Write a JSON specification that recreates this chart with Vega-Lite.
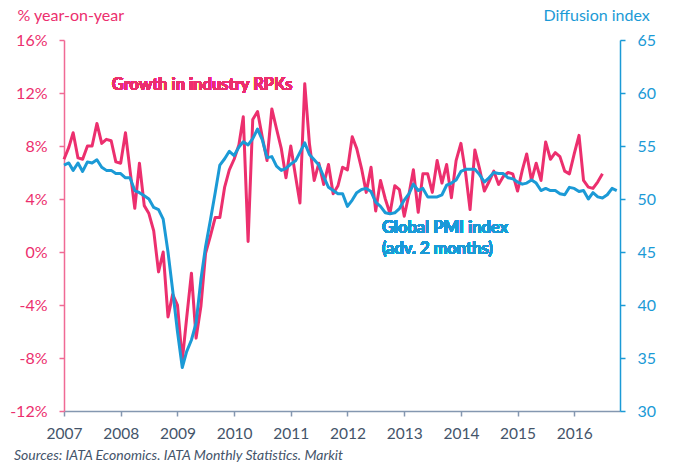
{
  "$schema": "https://vega.github.io/schema/vega-lite/v6.json",
  "width": 556,
  "height": 371,
  "autosize": {"type": "none"},
  "padding": {"left": 64, "top": 40, "right": 59, "bottom": 65},
  "background": "white",
  "config": {"font": "Lato", "view": {"stroke": null}, "axis": {"grid": false}},
  "title": {
    "text": "Sources: IATA Economics. IATA Monthly Statistics. Markit",
    "orient": "bottom", "anchor": "start", "frame": "group",
    "dx": -50, "offset": 7, "fontSize": 14, "fontStyle": "italic",
    "fontWeight": "normal", "color": "#44546a", "font": "Lato"
  },
  "data": {"values": [
    {"date": "2007-01-01", "rpk": 7.0, "pmi": 53.2},
    {"date": "2007-02-01", "rpk": 7.9, "pmi": 53.4},
    {"date": "2007-03-01", "rpk": 9.0, "pmi": 52.7},
    {"date": "2007-04-01", "rpk": 7.1, "pmi": 53.4},
    {"date": "2007-05-01", "rpk": 7.0, "pmi": 52.6},
    {"date": "2007-06-01", "rpk": 8.0, "pmi": 53.5},
    {"date": "2007-07-01", "rpk": 8.0, "pmi": 53.4},
    {"date": "2007-08-01", "rpk": 9.7, "pmi": 53.7},
    {"date": "2007-09-01", "rpk": 8.2, "pmi": 53.0},
    {"date": "2007-10-01", "rpk": 8.5, "pmi": 52.7},
    {"date": "2007-11-01", "rpk": 8.4, "pmi": 52.7},
    {"date": "2007-12-01", "rpk": 6.8, "pmi": 52.4},
    {"date": "2008-01-01", "rpk": 6.7, "pmi": 52.4},
    {"date": "2008-02-01", "rpk": 9.0, "pmi": 52.0},
    {"date": "2008-03-01", "rpk": 6.2, "pmi": 52.0},
    {"date": "2008-04-01", "rpk": 3.3, "pmi": 50.8},
    {"date": "2008-05-01", "rpk": 6.7, "pmi": 50.6},
    {"date": "2008-06-01", "rpk": 3.5, "pmi": 50.3},
    {"date": "2008-07-01", "rpk": 2.9, "pmi": 50.0},
    {"date": "2008-08-01", "rpk": 1.6, "pmi": 49.2},
    {"date": "2008-09-01", "rpk": -1.5, "pmi": 49.0},
    {"date": "2008-10-01", "rpk": 0.0, "pmi": 48.1},
    {"date": "2008-11-01", "rpk": -4.9, "pmi": 45.0},
    {"date": "2008-12-01", "rpk": -3.2, "pmi": 41.4},
    {"date": "2009-01-01", "rpk": -4.0, "pmi": 37.5},
    {"date": "2009-02-01", "rpk": -8.2, "pmi": 34.1},
    {"date": "2009-03-01", "rpk": -5.0, "pmi": 35.6},
    {"date": "2009-04-01", "rpk": -1.6, "pmi": 36.7},
    {"date": "2009-05-01", "rpk": -6.5, "pmi": 38.3},
    {"date": "2009-06-01", "rpk": -4.1, "pmi": 42.4},
    {"date": "2009-07-01", "rpk": -0.1, "pmi": 45.5},
    {"date": "2009-08-01", "rpk": 1.2, "pmi": 48.0},
    {"date": "2009-09-01", "rpk": 2.6, "pmi": 50.6},
    {"date": "2009-10-01", "rpk": 2.6, "pmi": 53.2},
    {"date": "2009-11-01", "rpk": 4.9, "pmi": 53.8},
    {"date": "2009-12-01", "rpk": 6.2, "pmi": 54.5},
    {"date": "2010-01-01", "rpk": 7.0, "pmi": 54.1},
    {"date": "2010-02-01", "rpk": 8.1, "pmi": 54.9},
    {"date": "2010-03-01", "rpk": 10.2, "pmi": 55.4},
    {"date": "2010-04-01", "rpk": 0.8, "pmi": 55.1},
    {"date": "2010-05-01", "rpk": 10.0, "pmi": 55.7},
    {"date": "2010-06-01", "rpk": 10.6, "pmi": 56.6},
    {"date": "2010-07-01", "rpk": 8.7, "pmi": 55.6},
    {"date": "2010-08-01", "rpk": 6.9, "pmi": 53.9},
    {"date": "2010-09-01", "rpk": 10.8, "pmi": 54.0},
    {"date": "2010-10-01", "rpk": 9.3, "pmi": 53.1},
    {"date": "2010-11-01", "rpk": 7.8, "pmi": 52.7},
    {"date": "2010-12-01", "rpk": 5.6, "pmi": 52.9},
    {"date": "2011-01-01", "rpk": 8.0, "pmi": 53.3},
    {"date": "2011-02-01", "rpk": 5.7, "pmi": 53.6},
    {"date": "2011-03-01", "rpk": 3.7, "pmi": 54.4},
    {"date": "2011-04-01", "rpk": 12.7, "pmi": 55.3},
    {"date": "2011-05-01", "rpk": 8.2, "pmi": 54.2},
    {"date": "2011-06-01", "rpk": 5.4, "pmi": 53.7},
    {"date": "2011-07-01", "rpk": 6.7, "pmi": 53.2},
    {"date": "2011-08-01", "rpk": 5.1, "pmi": 52.1},
    {"date": "2011-09-01", "rpk": 6.6, "pmi": 51.1},
    {"date": "2011-10-01", "rpk": 4.4, "pmi": 50.8},
    {"date": "2011-11-01", "rpk": 5.0, "pmi": 50.5},
    {"date": "2011-12-01", "rpk": 6.4, "pmi": 50.5},
    {"date": "2012-01-01", "rpk": 6.2, "pmi": 49.3},
    {"date": "2012-02-01", "rpk": 8.7, "pmi": 49.9},
    {"date": "2012-03-01", "rpk": 7.8, "pmi": 50.6},
    {"date": "2012-04-01", "rpk": 6.3, "pmi": 50.9},
    {"date": "2012-05-01", "rpk": 4.5, "pmi": 51.0},
    {"date": "2012-06-01", "rpk": 6.4, "pmi": 50.7},
    {"date": "2012-07-01", "rpk": 3.1, "pmi": 49.7},
    {"date": "2012-08-01", "rpk": 5.4, "pmi": 49.3},
    {"date": "2012-09-01", "rpk": 4.0, "pmi": 48.7},
    {"date": "2012-10-01", "rpk": 2.9, "pmi": 48.6},
    {"date": "2012-11-01", "rpk": 5.0, "pmi": 48.7},
    {"date": "2012-12-01", "rpk": 4.7, "pmi": 49.1},
    {"date": "2013-01-01", "rpk": 2.7, "pmi": 49.9},
    {"date": "2013-02-01", "rpk": 4.4, "pmi": 50.5},
    {"date": "2013-03-01", "rpk": 6.2, "pmi": 51.4},
    {"date": "2013-04-01", "rpk": 3.0, "pmi": 50.8},
    {"date": "2013-05-01", "rpk": 5.9, "pmi": 51.0},
    {"date": "2013-06-01", "rpk": 5.9, "pmi": 50.2},
    {"date": "2013-07-01", "rpk": 4.5, "pmi": 50.2},
    {"date": "2013-08-01", "rpk": 6.9, "pmi": 50.2},
    {"date": "2013-09-01", "rpk": 5.2, "pmi": 50.4},
    {"date": "2013-10-01", "rpk": 6.6, "pmi": 51.3},
    {"date": "2013-11-01", "rpk": 4.1, "pmi": 51.5},
    {"date": "2013-12-01", "rpk": 6.9, "pmi": 51.8},
    {"date": "2014-01-01", "rpk": 8.2, "pmi": 52.6},
    {"date": "2014-02-01", "rpk": 5.9, "pmi": 52.8},
    {"date": "2014-03-01", "rpk": 3.2, "pmi": 52.8},
    {"date": "2014-04-01", "rpk": 7.7, "pmi": 52.8},
    {"date": "2014-05-01", "rpk": 6.3, "pmi": 52.3},
    {"date": "2014-06-01", "rpk": 4.6, "pmi": 51.6},
    {"date": "2014-07-01", "rpk": 5.3, "pmi": 52.0},
    {"date": "2014-08-01", "rpk": 6.1, "pmi": 52.5},
    {"date": "2014-09-01", "rpk": 5.1, "pmi": 52.4},
    {"date": "2014-10-01", "rpk": 5.7, "pmi": 52.4},
    {"date": "2014-11-01", "rpk": 6.0, "pmi": 52.0},
    {"date": "2014-12-01", "rpk": 5.9, "pmi": 51.9},
    {"date": "2015-01-01", "rpk": 4.6, "pmi": 51.6},
    {"date": "2015-02-01", "rpk": 6.2, "pmi": 51.4},
    {"date": "2015-03-01", "rpk": 7.4, "pmi": 51.5},
    {"date": "2015-04-01", "rpk": 5.4, "pmi": 51.8},
    {"date": "2015-05-01", "rpk": 6.7, "pmi": 51.5},
    {"date": "2015-06-01", "rpk": 5.4, "pmi": 50.8},
    {"date": "2015-07-01", "rpk": 8.3, "pmi": 51.0},
    {"date": "2015-08-01", "rpk": 7.0, "pmi": 50.8},
    {"date": "2015-09-01", "rpk": 7.5, "pmi": 50.8},
    {"date": "2015-10-01", "rpk": 7.2, "pmi": 50.5},
    {"date": "2015-11-01", "rpk": 6.1, "pmi": 50.4},
    {"date": "2015-12-01", "rpk": 5.9, "pmi": 51.1},
    {"date": "2016-01-01", "rpk": 7.4, "pmi": 51.0},
    {"date": "2016-02-01", "rpk": 8.8, "pmi": 50.7},
    {"date": "2016-03-01", "rpk": 5.4, "pmi": 50.8},
    {"date": "2016-04-01", "rpk": 4.9, "pmi": 50.0},
    {"date": "2016-05-01", "rpk": 4.8, "pmi": 50.6},
    {"date": "2016-06-01", "rpk": 5.3, "pmi": 50.2},
    {"date": "2016-07-01", "rpk": 5.9, "pmi": 50.1},
    {"date": "2016-08-01", "rpk": null, "pmi": 50.4},
    {"date": "2016-09-01", "rpk": null, "pmi": 51.0},
    {"date": "2016-10-01", "rpk": null, "pmi": 50.8}
  ]},
  "layer": [
    {
      "layer": [
        {
          "mark": {"type": "line", "color": "#ec2f6e", "strokeWidth": 3, "strokeJoin": "round"},
          "encoding": {
            "x": {
              "field": "date", "type": "temporal",
              "scale": {"type": "utc", "nice": false, "padding": 0,
                "domain": [{"year": 2007, "month": 1, "date": 1, "utc": true}, {"year": 2016, "month": 10, "date": 22, "utc": true}]},
              "axis": {
                "title": null, "format": "%Y", "formatType": "utc",
                "values": [
                  {"year": 2007, "month": 1, "date": 1, "utc": true},
                  {"year": 2008, "month": 1, "date": 1, "utc": true},
                  {"year": 2009, "month": 1, "date": 1, "utc": true},
                  {"year": 2010, "month": 1, "date": 1, "utc": true},
                  {"year": 2011, "month": 1, "date": 1, "utc": true},
                  {"year": 2012, "month": 1, "date": 1, "utc": true},
                  {"year": 2013, "month": 1, "date": 1, "utc": true},
                  {"year": 2014, "month": 1, "date": 1, "utc": true},
                  {"year": 2015, "month": 1, "date": 1, "utc": true},
                  {"year": 2016, "month": 1, "date": 1, "utc": true}
                ],
                "labelFontSize": 15.5, "labelColor": "#44546a", "labelPadding": 10,
                "labelFlush": false, "labelOverlap": false,
                "domainColor": "#8497b0", "domainWidth": 1.5, "tickColor": "#8497b0",
                "tickSize": 5, "tickWidth": 1.5, "grid": false
              }
            },
            "y": {
              "field": "rpk", "type": "quantitative",
              "scale": {"domain": [-12, 16], "nice": false, "zero": false},
              "axis": {
                "title": "% year-on-year", "titleAngle": 0, "titleAlign": "left",
                "titleBaseline": "alphabetic", "titleX": -47, "titleY": -20,
                "titleColor": "#ec2f6e", "titleFontSize": 16, "titleFontWeight": "normal",
                "values": [-12, -8, -4, 0, 4, 8, 12, 16],
                "labelExpr": "datum.value + '%'",
                "labelColor": "#ec2f6e", "labelFontSize": 16, "labelPadding": 12,
                "domainColor": "#f06a95", "domainWidth": 1.5, "tickColor": "#f06a95",
                "tickSize": 5, "tickWidth": 1.5, "grid": false
              }
            }
          }
        },
        {
          "mark": {"type": "text", "text": "Growth in industry RPKs", "align": "left",
            "baseline": "alphabetic", "fontSize": 16.5, "fontWeight": "bold", "color": "#ec2f6e"},
          "encoding": {
            "x": {"datum": {"year": 2007, "month": 11, "date": 5, "utc": true}, "type": "temporal"},
            "y": {"datum": 12.26, "type": "quantitative"}
          }
        }
      ]
    },
    {
      "layer": [
        {
          "mark": {"type": "line", "color": "#1b9ad6", "strokeWidth": 3, "strokeJoin": "round"},
          "encoding": {
            "x": {"field": "date", "type": "temporal"},
            "y": {
              "field": "pmi", "type": "quantitative",
              "scale": {"domain": [30, 65], "nice": false, "zero": false},
              "axis": {
                "orient": "right",
                "title": "Diffusion index", "titleAngle": 0, "titleAlign": "left",
                "titleBaseline": "alphabetic", "titleX": -77, "titleY": -20,
                "titleColor": "#1b9ad6", "titleFontSize": 16, "titleFontWeight": "normal",
                "values": [30, 35, 40, 45, 50, 55, 60, 65],
                "labelColor": "#1b9ad6", "labelFontSize": 16, "labelPadding": 12,
                "domainColor": "#1b9ad6", "domainWidth": 1.5, "tickColor": "#1b9ad6",
                "tickSize": 5, "tickWidth": 1.5, "grid": false
              }
            }
          }
        },
        {
          "mark": {"type": "text", "text": "Global PMI index", "align": "left",
            "baseline": "alphabetic", "fontSize": 16.5, "fontWeight": "bold", "color": "#1b9ad6"},
          "encoding": {
            "x": {"datum": {"year": 2012, "month": 8, "date": 10, "utc": true}, "type": "temporal"},
            "y": {"datum": 46.8, "type": "quantitative"}
          }
        },
        {
          "mark": {"type": "text", "text": "(adv. 2 months)", "align": "left",
            "baseline": "alphabetic", "fontSize": 16.5, "fontWeight": "bold", "color": "#1b9ad6"},
          "encoding": {
            "x": {"datum": {"year": 2012, "month": 8, "date": 10, "utc": true}, "type": "temporal"},
            "y": {"datum": 44.8, "type": "quantitative"}
          }
        }
      ]
    }
  ],
  "resolve": {"scale": {"y": "independent"}}
}
